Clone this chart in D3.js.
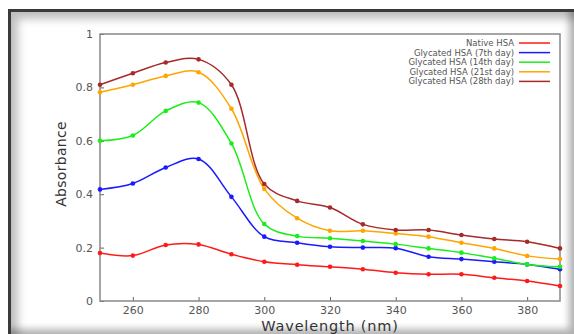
<!DOCTYPE html>
<html>
<head>
<meta charset="utf-8">
<script src="https://cdn.jsdelivr.net/npm/d3@7"></script>
<style>
  body { margin: 0; background: #fff; }
  #frame {
    position: absolute; left: 8px; top: 9px; width: 563px; height: 322px;
    border-top: 3px solid #3a3a3a; border-left: 3px solid #3a3a3a;
    box-shadow: inset 7px 7px 8px rgba(0,0,0,0.25), inset -5px -5px 7px rgba(0,0,0,0.3);
  }
  svg { position: absolute; left: 0; top: 0; }
</style>
</head>
<body>
<div id="frame"></div>
<script>
const wavelength = [250, 260, 270, 280, 290, 300, 310, 320, 330, 340, 350, 360, 370, 380, 390];
const nativeHSA = [0.18, 0.17, 0.21, 0.212, 0.175, 0.147, 0.136, 0.128, 0.119, 0.106, 0.10, 0.10, 0.087, 0.075, 0.056];
const day7 = [0.418, 0.44, 0.50, 0.532, 0.39, 0.241, 0.218, 0.203, 0.20, 0.198, 0.166, 0.157, 0.147, 0.137, 0.119];
const day14 = [0.60, 0.62, 0.712, 0.743, 0.59, 0.288, 0.243, 0.235, 0.225, 0.213, 0.197, 0.181, 0.16, 0.137, 0.128];
const day21 = [0.782, 0.81, 0.843, 0.857, 0.72, 0.42, 0.31, 0.263, 0.263, 0.253, 0.241, 0.218, 0.197, 0.169, 0.157];
const day28 = [0.81, 0.853, 0.893, 0.905, 0.81, 0.438, 0.375, 0.35, 0.287, 0.266, 0.266, 0.247, 0.232, 0.222, 0.197];
const seriesNames = ["Native HSA", "Glycated HSA (7th day)", "Glycated HSA (14th day)", "Glycated HSA (21st day)", "Glycated HSA (28th day)"];
const seriesColors = ["#ff1a1a", "#1a1aff", "#1aee1a", "#ffa500", "#a52a2a"];
const xTicks = [260, 280, 300, 320, 340, 360, 380];
const yTicks = [0, 0.2, 0.4, 0.6, 0.8, 1];

const allSeries = [nativeHSA, day7, day14, day21, day28];

const svgWidth = 574, svgHeight = 334;
const margin = { top: 34, right: 14, bottom: 33, left: 100 };
const width = svgWidth - margin.left - margin.right;
const height = svgHeight - margin.top - margin.bottom;

const svg = d3.select("body").append("svg")
  .attr("width", svgWidth)
  .attr("height", svgHeight);

const g = svg.append("g")
  .attr("transform", `translate(${margin.left},${margin.top})`);

const x = d3.scaleLinear().domain([250, 390]).range([0, width]);
const y = d3.scaleLinear().domain([0, 1]).range([height, 0]);

// axes with inward ticks
const xAxis = g.append("g")
  .attr("transform", `translate(0,${height})`)
  .call(d3.axisBottom(x).tickValues(xTicks).tickSizeInner(-4).tickSizeOuter(0).tickPadding(5));
const yAxis = g.append("g")
  .call(d3.axisLeft(y).tickValues(yTicks).tickSizeInner(-4).tickSizeOuter(0).tickPadding(7)
    .tickFormat(d => d === 0 || d === 1 ? d3.format("d")(d) : d3.format(".1f")(d)));

[xAxis, yAxis].forEach(a => {
  a.select(".domain").remove();
  a.selectAll("line").attr("stroke", "#666");
  a.selectAll("text")
    .attr("fill", "#555")
    .style("font-family", "DejaVu Sans")
    .style("font-size", "11px");
});

g.append("rect")
  .attr("width", width).attr("height", height)
  .attr("fill", "none").attr("stroke", "#888").attr("stroke-width", 1.5);

const line = d3.line()
  .x((d, i) => x(wavelength[i]))
  .y(d => y(d))
  .curve(d3.curveCatmullRom.alpha(0.5));

allSeries.forEach((s, k) => {
  g.append("path")
    .datum(s)
    .attr("fill", "none")
    .attr("stroke", seriesColors[k])
    .attr("stroke-width", 1.5)
    .attr("d", line);
  g.selectAll(".pt" + k)
    .data(s)
    .enter().append("circle")
    .attr("cx", (d, i) => x(wavelength[i]))
    .attr("cy", d => y(d))
    .attr("r", 2.3)
    .attr("fill", seriesColors[k]);
});

// legend
const legend = svg.append("g").attr("transform", "translate(514,43)");
seriesNames.forEach((name, k) => {
  legend.append("text")
    .attr("x", 0).attr("y", k * 9.6)
    .attr("dy", "0.35em")
    .attr("text-anchor", "end")
    .attr("fill", "#555")
    .style("font-family", "DejaVu Sans")
    .style("font-size", "8.5px")
    .text(name);
  legend.append("line")
    .attr("x1", 5).attr("x2", 36)
    .attr("y1", k * 9.6).attr("y2", k * 9.6)
    .attr("stroke", seriesColors[k])
    .attr("stroke-width", 1.5);
});

svg.append("text")
  .attr("x", 330).attr("y", 331)
  .attr("text-anchor", "middle")
  .attr("fill", "#333")
  .style("font-family", "DejaVu Sans")
  .style("font-size", "14.5px")
  .style("letter-spacing", "0.8px")
  .text("Wavelength (nm)");

svg.append("text")
  .attr("transform", "translate(66,164) rotate(-90)")
  .attr("text-anchor", "middle")
  .attr("fill", "#333")
  .style("font-family", "DejaVu Sans")
  .style("font-size", "14px")
  .style("letter-spacing", "0.3px")
  .text("Absorbance");
</script>
</body>
</html>
